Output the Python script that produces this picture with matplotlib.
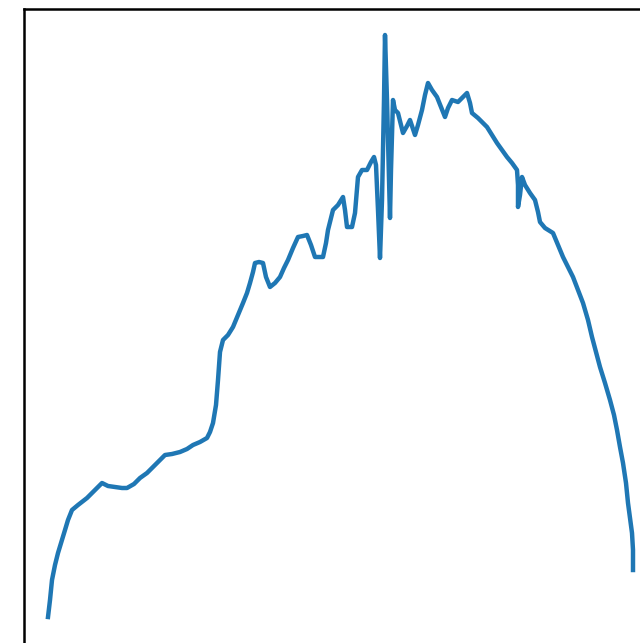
import matplotlib.pyplot as plt
import numpy as np

# curve (x position, height)
xs = [24, 26, 28, 31, 34, 38, 41, 44, 48, 54,
      63, 71, 78, 84, 91, 98, 103, 110, 116, 123,
      129, 136, 141, 148, 156, 163, 169, 176, 183, 186,
      189, 192, 194, 196, 199, 204, 209, 214, 219, 223,
      226, 229, 231, 235, 239, 242, 246, 251, 256, 260,
      264, 269, 274, 279, 283, 287, 291, 295, 299, 302,
      304, 309, 314, 319, 321, 323, 328, 331, 334, 338,
      343, 347, 350, 352, 354, 356, 358, 360, 361, 363,
      365, 366, 367, 369, 371, 374, 379, 383, 386, 391,
      394, 398, 401, 404, 408, 413, 417, 421, 424, 428,
      431, 434, 438, 443, 446, 448, 454, 459, 463, 468,
      473, 478, 483, 488, 493, 494, 494, 496, 498, 501,
      506, 511, 514, 516, 521, 529, 534, 539, 544, 549,
      554, 559, 564, 568, 572, 576, 581, 586, 590, 593,
      596, 599, 602, 604, 606, 608, 609, 609]
ys = [32, 49, 69, 84, 96, 109, 119, 129, 139, 144,
      151, 159, 166, 163, 162, 161, 161, 165, 171, 176,
      182, 189, 194, 195, 197, 200, 204, 207, 211, 217,
      226, 244, 269, 297, 309, 314, 322, 334, 346, 356,
      366, 377, 386, 387, 386, 372, 362, 366, 372, 381,
      389, 401, 412, 413, 414, 404, 392, 392, 392, 406,
      419, 439, 444, 452, 439, 422, 422, 436, 472, 479,
      479, 487, 492, 484, 439, 391, 449, 549, 614, 549,
      469, 431, 479, 549, 539, 536, 516, 523, 529, 514,
      524, 539, 554, 566, 559, 552, 542, 532, 541, 549,
      548, 547, 551, 556, 546, 536, 531, 526, 522, 514,
      506, 499, 492, 486, 479, 464, 442, 454, 472, 464,
      456, 449, 437, 427, 421, 416, 404, 392, 382, 372,
      359, 346, 329, 312, 297, 282, 266, 249, 234, 219,
      202, 186, 166, 146, 131, 116, 99, 79]

fig = plt.figure(figsize=(6.4, 6.43), dpi=100)
ax = fig.add_axes([24 / 640, -6 / 643, 1.0, 640 / 643])
ax.plot(xs, ys, color='#1f77b4', linewidth=3.2)
ax.set_xlim(0, 640)
ax.set_ylim(0, 640)
ax.set_xticks([])
ax.set_yticks([])
for s in ['left', 'top']:
    ax.spines[s].set_linewidth(1.8)
fig.savefig('out.png', dpi=100)
